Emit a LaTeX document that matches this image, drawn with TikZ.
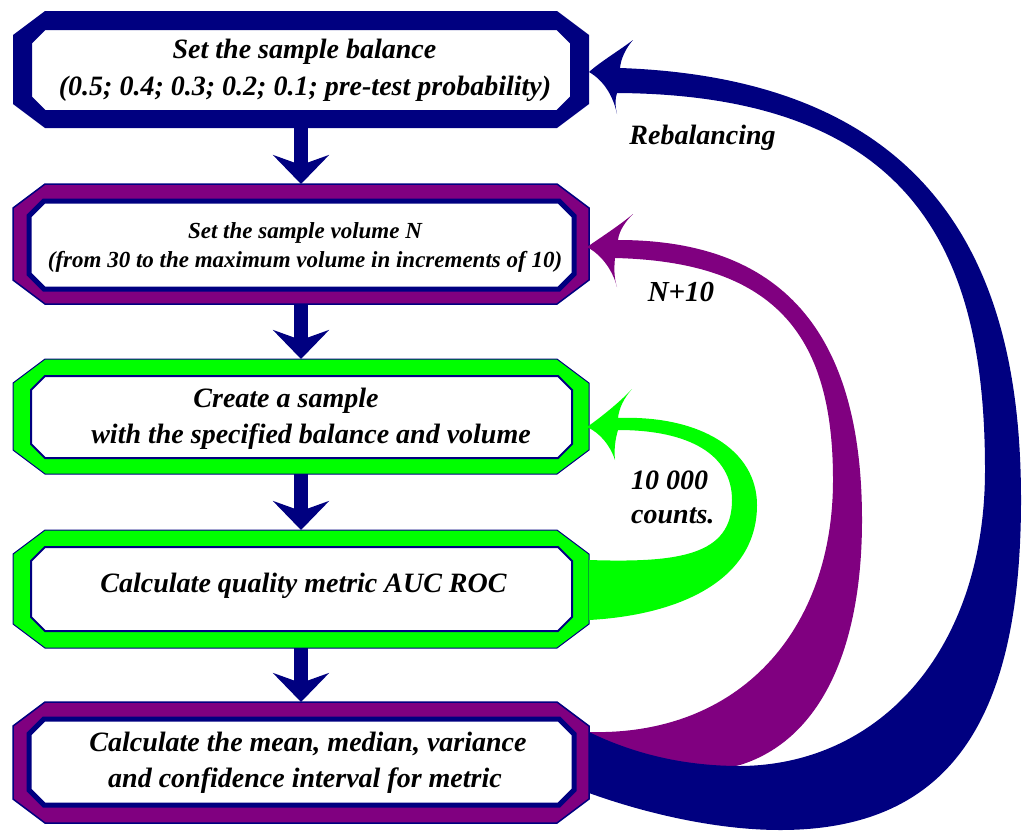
\documentclass[tikz,border=0pt]{standalone}
\usepackage{fontspec}
\setmainfont{Liberation Serif}
\usetikzlibrary{arrows.meta}
\definecolor{navyc}{RGB}{0,0,128}
\definecolor{purplec}{RGB}{128,0,128}
\definecolor{greenc}{RGB}{0,255,0}
% octagon: x1 y1 x2 y2 chamferx chamfery style
\newcommand\octo[7]{%
  \path[#7] (#1+#5,#2) -- (#3-#5,#2) -- (#3,#2+#6) -- (#3,#4-#6) -- (#3-#5,#4)
    -- (#1+#5,#4) -- (#1,#4-#6) -- (#1,#2+#6) -- cycle;}
\begin{document}
\begin{tikzpicture}[x=1pt,y=-1pt,
  boxnode/.style={minimum width=576pt, inner sep=0pt, outer sep=0pt},
  txt/.style={font=\fontsize{28}{32}\selectfont\bfseries\itshape, anchor=base, inner sep=0pt},
  smalltxt/.style={txt, font=\fontsize{23}{27}\selectfont\bfseries\itshape},
  downarrow/.style={draw=navyc, line width=14pt, -{Stealth[length=29pt,width=56pt,inset=10pt]}},
  outernavy/.style={fill=navyc},
  outerpurple/.style={fill=purplec, draw=navyc, line width=1.5pt},
  outergreen/.style={fill=greenc, draw=navyc, line width=1pt},
  innerthick/.style={fill=white, draw=navyc, line width=5pt},
  innerthin/.style={fill=white, draw=navyc, line width=2pt}
]
\useasboundingbox (0,0) rectangle (1022,830);

% ---------- boxes ----------
\octo{13}{11}{589}{128}{32}{24}{outernavy}
\octo{31}{29}{571}{111}{14}{14}{innerthin}
\octo{13}{184}{589}{304}{32}{24}{outerpurple}
\octo{29}{201}{574}{289}{15}{15}{innerthick}
\octo{13}{359}{589}{474}{32}{24}{outergreen}
\octo{31}{376}{572}{458}{14}{14}{innerthin}
\octo{13}{530}{589}{648}{32}{24}{outergreen}
\octo{31}{547}{572}{631}{14}{14}{innerthin}
\octo{13}{702}{589}{823}{32}{24}{outerpurple}
\octo{29}{719}{574}{805}{15}{15}{innerthick}

\node[boxnode, minimum height=117pt] (b1) at (301,69.5) {};
\node[boxnode, minimum height=120pt] (b2) at (301,244) {};
\node[boxnode, minimum height=115pt] (b3) at (301,416.5) {};
\node[boxnode, minimum height=118pt] (b4) at (301,589) {};
\node[boxnode, minimum height=121pt] (b5) at (301,762.5) {};

% ---------- texts ----------
\node[txt] (t1a) at (304.5,58) {Set the sample balance};
\node[txt] (t1b) at (305,95) {(0.5; 0.4; 0.3; 0.2; 0.1; pre-test probability)};
\node[smalltxt] (t2a) at (305,238) {Set the sample volume N};
\node[smalltxt] (t2b) at (305,267) {(from 30 to the maximum volume in increments of 10)};
\node[txt] (t3a) at (286,407) {Create a sample};
\node[txt] (t3b) at (311,443) {with the specified balance and volume};
\node[txt] (t4) at (303.5,592) {Calculate quality metric AUC ROC};
\node[txt] (t5a) at (308,751) {Calculate the mean, median, variance};
\node[txt] (t5b) at (305,787) {and confidence interval for metric};

% ---------- down arrows ----------
\draw[downarrow] (b1.south) -- (b2.north);
\draw[downarrow] (b2.south) -- (b3.north);
\draw[downarrow] (b3.south) -- (b4.north);
\draw[downarrow] (b4.south) -- (b5.north);

% ---------- purple loop (N+10) ----------
\fill[purplec] (589,778) -- (589,732)
  .. controls (740,736) and (833,630) .. (833,480)
  .. controls (833,340) and (780,262) .. (615,258)
  .. controls (614,268) and (614,278) .. (617,287)
  .. controls (612,268) and (600,254) .. (587,247)
  .. controls (600,238) and (620,225) .. (633,214)
  .. controls (625,222) and (619,231) .. (618,240)
  .. controls (780,240) and (862,330) .. (862,520)
  .. controls (862,650) and (820,740) .. (740,765)
  -- (680,778) -- cycle;

% ---------- navy loop (Rebalancing) ----------
\fill[navyc] (589,793)
  .. controls (650,815) and (720,830) .. (780,830)
  .. controls (950,830) and (1021,720) .. (1021,500)
  .. controls (1021,300) and (960,80) .. (620,68)
  .. controls (621,58) and (626,48) .. (633,40)
  .. controls (620,50) and (600,62) .. (589,72)
  .. controls (603,80) and (613,95) .. (617,114)
  .. controls (615,105) and (615,99) .. (617,93)
  .. controls (920,95) and (985,260) .. (985,470)
  .. controls (985,650) and (880,765) .. (740,766)
  .. controls (680,766) and (630,752) .. (589,732)
  -- cycle;

% ---------- green loop (10 000 counts) ----------
\fill[greenc] (589,620) -- (589,560)
  .. controls (680,563) and (732,555) .. (732,500)
  .. controls (732,455) and (690,430) .. (618,430)
  .. controls (615,440) and (614,450) .. (615,460)
  .. controls (610,445) and (600,433) .. (587,427)
  .. controls (600,418) and (620,402) .. (632,389)
  .. controls (624,398) and (619,408) .. (618,418)
  .. controls (700,415) and (757,450) .. (757,505)
  .. controls (757,580) and (680,615) .. (589,620)
  -- cycle;

% ---------- loop labels ----------
\node[txt] (lr) at (702.5,144) {Rebalancing};
\node[txt, font=\fontsize{29}{32}\selectfont\bfseries\itshape] (ln) at (681,301) {N+10};
\node[txt, anchor=base west] (lc1) at (631,489) {10 000};
\node[txt, anchor=base west] (lc2) at (631,523) {counts.};
\end{tikzpicture}
\end{document}
